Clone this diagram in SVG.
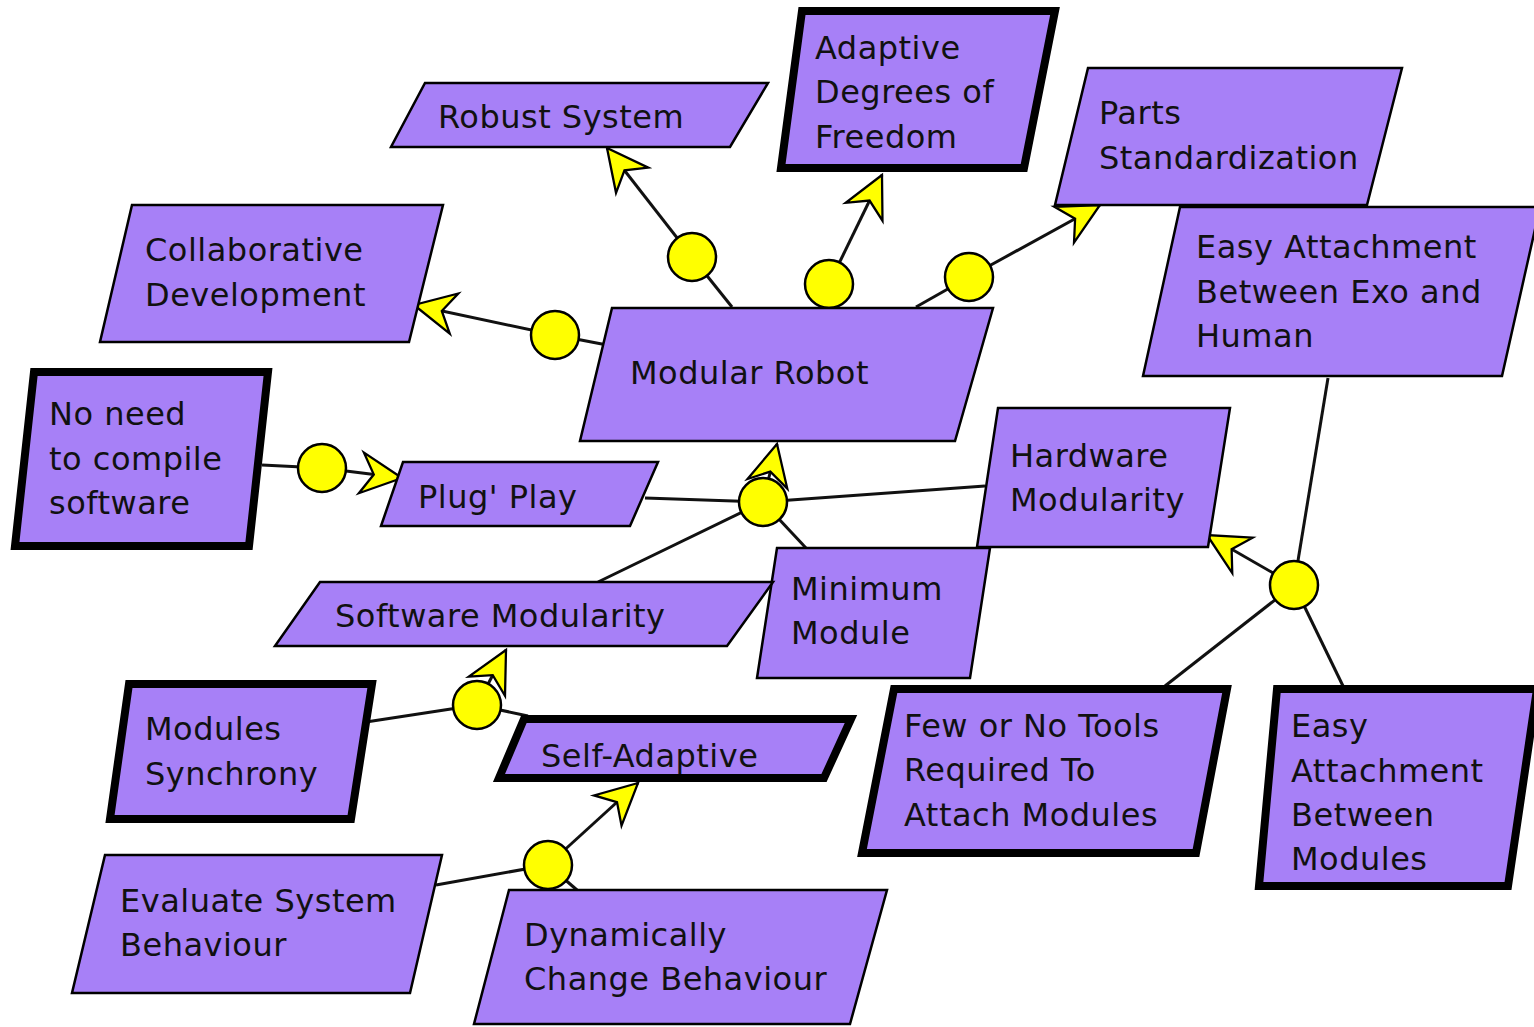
<svg xmlns="http://www.w3.org/2000/svg" width="1534" height="1027" viewBox="0 0 1534 1027">
<style>
.n{fill:#a780f7;stroke:#000;stroke-width:2.5;stroke-linejoin:miter}
.k{fill:#a780f7;stroke:#000;stroke-width:8;stroke-linejoin:miter}
.t{font-family:"DejaVu Sans","Liberation Sans",sans-serif;font-size:32px;letter-spacing:0.5px;fill:#111}
.c{fill:none;stroke:#111;stroke-width:3}
.j{fill:#ffff00;stroke:#000;stroke-width:2.5}
</style>
<defs>
<marker id="arr" markerUnits="userSpaceOnUse" orient="auto" markerWidth="50" markerHeight="50" viewBox="-40 -22 44 44" refX="0" refY="0" overflow="visible">
<path d="M0,0 L-36,-18 L-25,0 L-36,18 Z" fill="#ffff00" stroke="#000" stroke-width="2"/>
</marker>
</defs>
<rect width="1534" height="1027" fill="#fff"/>
<g id="connectors">
<path class="c" d="M732,307 L692,257"/>
<path class="c" d="M692,257 L607,148" marker-end="url(#arr)"/>
<path class="c" d="M829,306 L829,284"/>
<path class="c" d="M829,284 L882,175" marker-end="url(#arr)"/>
<path class="c" d="M916,307 L969,277"/>
<path class="c" d="M969,277 L1100,205" marker-end="url(#arr)"/>
<path class="c" d="M607,345 L555,335"/>
<path class="c" d="M555,335 L414,305" marker-end="url(#arr)"/>
<path class="c" d="M262,465 L322,468"/>
<path class="c" d="M322,468 L402,478" marker-end="url(#arr)"/>
<path class="c" d="M645,498 L763,502"/>
<path class="c" d="M985,486 L763,502"/>
<path class="c" d="M598,582 L763,502"/>
<path class="c" d="M806,548 L763,502"/>
<path class="c" d="M763,502 L777,444" marker-end="url(#arr)"/>
<path class="c" d="M1328,378 L1294,585"/>
<path class="c" d="M1165,686 L1294,585"/>
<path class="c" d="M1343,686 L1294,585"/>
<path class="c" d="M1294,585 L1207,535" marker-end="url(#arr)"/>
<path class="c" d="M366,722 L477,705"/>
<path class="c" d="M528,716 L477,705"/>
<path class="c" d="M477,705 L506,650" marker-end="url(#arr)"/>
<path class="c" d="M436,885 L548,865"/>
<path class="c" d="M577,890 L548,865"/>
<path class="c" d="M548,865 L638,783" marker-end="url(#arr)"/>
<circle class="j" cx="692" cy="257" r="24"/>
<circle class="j" cx="829" cy="284" r="24"/>
<circle class="j" cx="969" cy="277" r="24"/>
<circle class="j" cx="555" cy="335" r="24"/>
<circle class="j" cx="322" cy="468" r="24"/>
<circle class="j" cx="763" cy="502" r="24"/>
<circle class="j" cx="1294" cy="585" r="24"/>
<circle class="j" cx="477" cy="705" r="24"/>
<circle class="j" cx="548" cy="865" r="24"/>
</g>
<g id="robust"><polygon class="n" points="425,83 768,83 730,147 391,147"/><text class="t" x="438" y="128">Robust System</text></g>
<g id="adaptive"><polygon class="k" points="802,11 1055,11 1024,168 781,168"/><text class="t" x="815" y="59">Adaptive</text><text class="t" x="815" y="103">Degrees of</text><text class="t" x="815" y="148">Freedom</text></g>
<g id="parts"><polygon class="n" points="1088,68 1402,68 1367,205 1055,205"/><text class="t" x="1099" y="124">Parts</text><text class="t" x="1099" y="169">Standardization</text></g>
<g id="collab"><polygon class="n" points="132,205 443,205 409,342 100,342"/><text class="t" x="145" y="261">Collaborative</text><text class="t" x="145" y="306">Development</text></g>
<g id="modular"><polygon class="n" points="612,308 993,308 955,441 580,441"/><text class="t" x="630" y="384">Modular Robot</text></g>
<g id="exohuman"><polygon class="n" points="1180,207 1540,207 1502,376 1143,376"/><text class="t" x="1196" y="258">Easy Attachment</text><text class="t" x="1196" y="303">Between Exo and</text><text class="t" x="1196" y="347">Human</text></g>
<g id="noneed"><polygon class="k" points="34,372 268,372 249,546 15,546"/><text class="t" x="49" y="425">No need</text><text class="t" x="49" y="470">to compile</text><text class="t" x="49" y="514">software</text></g>
<g id="plug"><polygon class="n" points="403,462 658,462 630,526 381,526"/><text class="t" x="418" y="508">Plug' Play</text></g>
<g id="hardware"><polygon class="n" points="998,408 1230,408 1208,547 977,547"/><text class="t" x="1010" y="467">Hardware</text><text class="t" x="1010" y="511">Modularity</text></g>
<g id="minimum"><polygon class="n" points="777,548 990,548 970,678 757,678"/><text class="t" x="791" y="600">Minimum</text><text class="t" x="791" y="644">Module</text></g>
<g id="software"><polygon class="n" points="320,582 773,582 727,646 275,646"/><text class="t" x="335" y="627">Software Modularity</text></g>
<g id="modsync"><polygon class="k" points="129,684 372,684 351,819 110,819"/><text class="t" x="145" y="740">Modules</text><text class="t" x="145" y="785">Synchrony</text></g>
<g id="selfadaptive"><polygon class="k" points="524,719 851,719 824,778 499,778"/><text class="t" x="541" y="767">Self-Adaptive</text></g>
<g id="fewtools"><polygon class="k" points="894,689 1227,689 1196,853 862,853"/><text class="t" x="904" y="737">Few or No Tools</text><text class="t" x="904" y="781">Required To</text><text class="t" x="904" y="826">Attach Modules</text></g>
<g id="easymodules"><polygon class="k" points="1277,689 1537,689 1508,886 1259,886"/><text class="t" x="1291" y="737">Easy</text><text class="t" x="1291" y="782">Attachment</text><text class="t" x="1291" y="826">Between</text><text class="t" x="1291" y="870">Modules</text></g>
<g id="evaluate"><polygon class="n" points="105,855 442,855 410,993 72,993"/><text class="t" x="120" y="912">Evaluate System</text><text class="t" x="120" y="956">Behaviour</text></g>
<g id="dynamic"><polygon class="n" points="509,890 887,890 850,1024 474,1024"/><text class="t" x="524" y="946">Dynamically</text><text class="t" x="524" y="990">Change Behaviour</text></g>
</svg>
